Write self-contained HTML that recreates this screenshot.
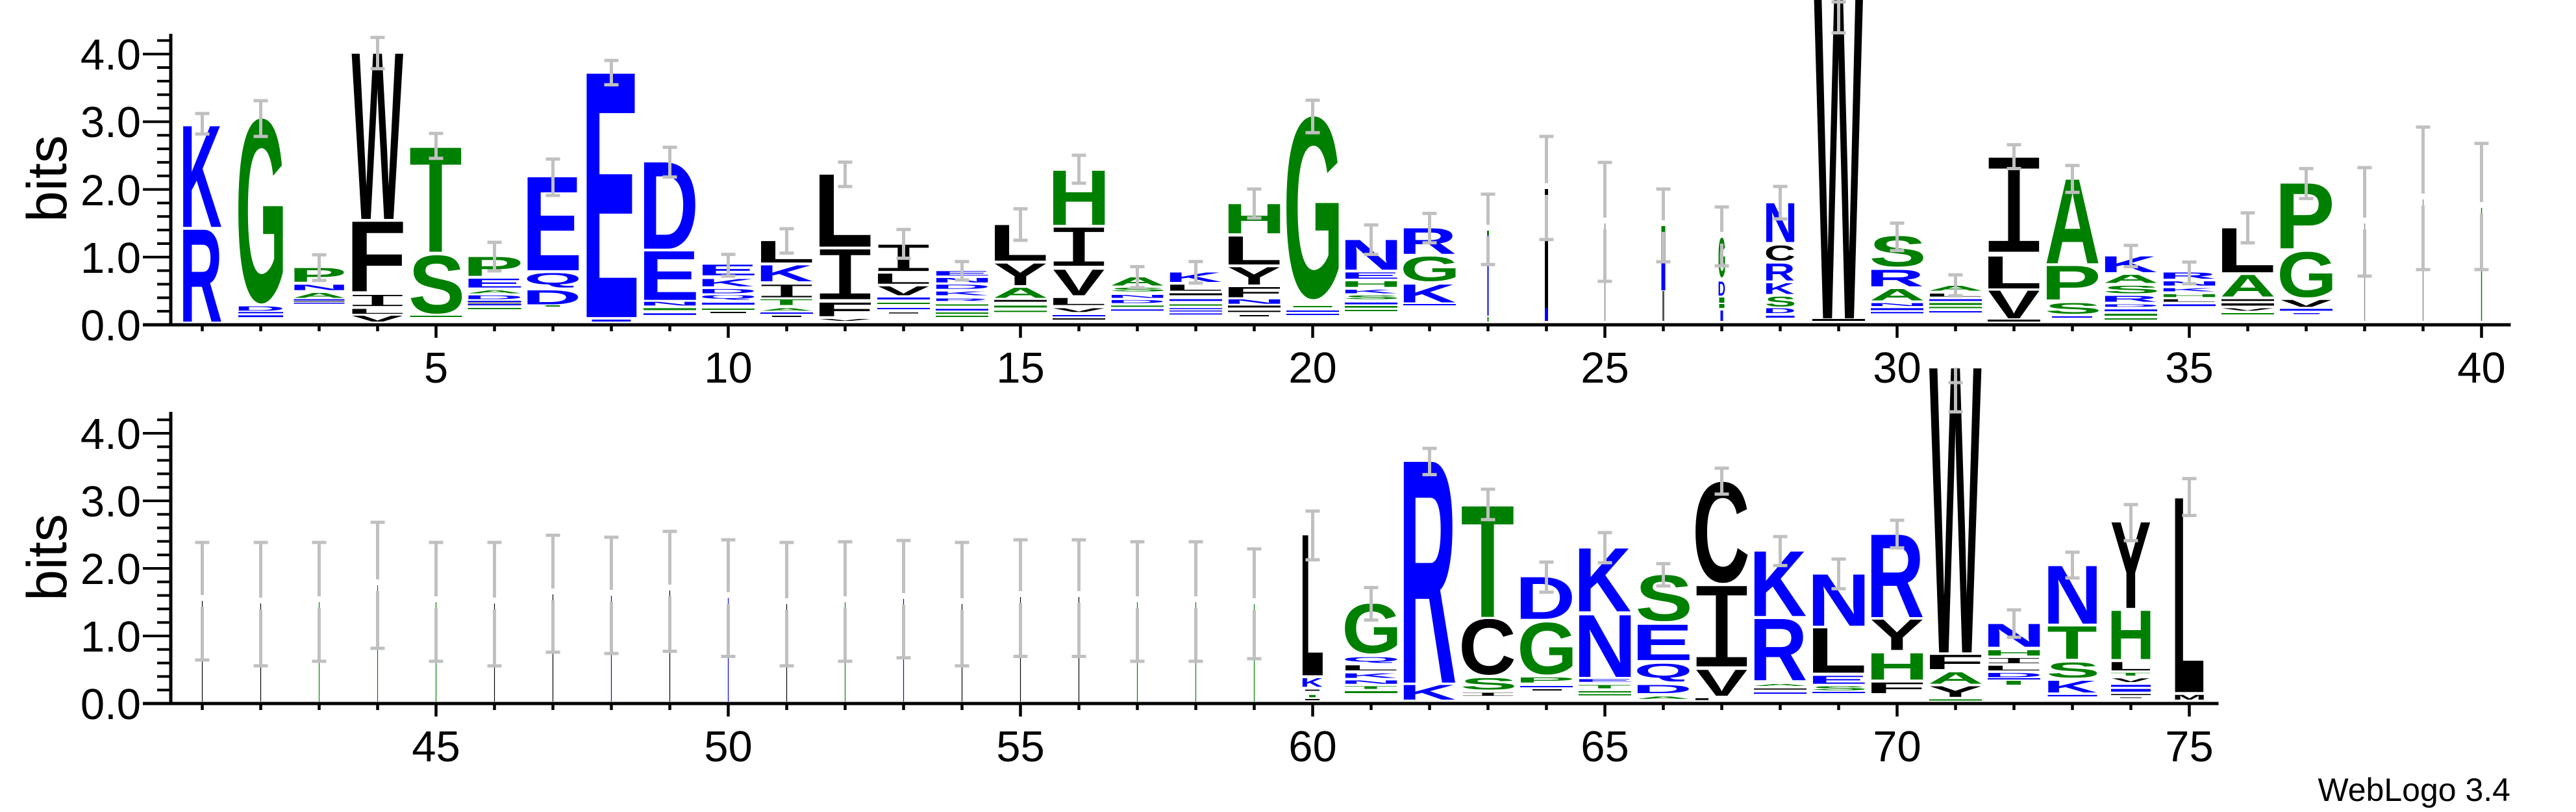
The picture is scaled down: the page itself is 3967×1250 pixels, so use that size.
<!DOCTYPE html>
<html><head><meta charset="utf-8"><style>
html,body{margin:0;padding:0;background:#fff;}
svg{display:block;}
.L text{font-family:"Liberation Sans",sans-serif;font-weight:bold;font-size:100px;}
.L text.i{font-family:"Liberation Mono",monospace;font-weight:normal;}
.b{fill:#0000ff}.g{fill:#008000}.k{fill:#000}
.ax{stroke:#000;fill:none}
.eb{stroke:#c0c0c0;stroke-width:5;fill:none}
.lab{font-family:"Liberation Sans",sans-serif;font-size:67px;fill:#000}
</style></head><body>
<svg id="root" width="3967" height="1250" viewBox="0 0 3967 1250" xmlns="http://www.w3.org/2000/svg">
<rect width="3967" height="1250" fill="#fff"/>
<g id="letters">
<!-- TOP ROW -->
<svg class="L" x="281.5" y="191.6" width="60" height="157.8" viewBox="7.3 -71.6 65 71.6" preserveAspectRatio="none"><text class="b">K</text></svg>
<svg class="L" x="281.5" y="353.3" width="60" height="142" viewBox="7.3 -71.6 64.7 71.6" preserveAspectRatio="none"><text class="b">R</text></svg>

<svg class="L" x="367" y="181.8" width="69" height="285.5" viewBox="4.6 -72.8 68.1 74" preserveAspectRatio="none"><text class="g">G</text></svg>
<svg class="L" x="367" y="471.6" width="69" height="6.7" viewBox="7.3 -71.6 59.8 71.6" preserveAspectRatio="none"><text class="b">D</text></svg>
<rect class="b" x="367" y="480.3" width="69" height="2"/><rect class="b" x="367" y="485.4" width="69" height="2.8"/>

<svg class="L" x="452.5" y="412.5" width="78" height="21.6" viewBox="7.3 -71.6 55.2 71.6" preserveAspectRatio="none"><text class="g">P</text></svg>
<svg class="L" x="452.5" y="438.1" width="78" height="8.7" viewBox="7.3 -71.6 57.5 71.6" preserveAspectRatio="none"><text class="b">N</text></svg>
<svg class="L" x="452.5" y="450.7" width="78" height="7.9" viewBox="0 -71.6 72.2 71.6" preserveAspectRatio="none"><text class="g">A</text></svg>
<rect class="b" x="452.5" y="460.6" width="78" height="1.9"/><rect class="k" x="452.5" y="463.5" width="78" height="1"/><rect class="b" x="452.5" y="466" width="78" height="1.5"/>

<svg class="L" x="541.5" y="82" width="80" height="255.1" viewBox="0 -71.6 94.5 71.6" preserveAspectRatio="none"><text class="k">W</text></svg>
<svg class="L" x="541.5" y="341.1" width="80" height="108.8" viewBox="7.3 -71.6 49.1 71.6" preserveAspectRatio="none"><text class="k">F</text></svg>
<svg class="L" x="541.5" y="453.9" width="80" height="17.3" viewBox="9 -66 42 66" preserveAspectRatio="none"><text class="k i">I</text></svg>
<svg class="L" x="541.5" y="475.5" width="80" height="7.5" viewBox="7.3 -71.6 50.8 71.6" preserveAspectRatio="none"><text class="k">L</text></svg>
<svg class="L" x="541.5" y="486" width="80" height="9" viewBox="0 -71.6 66.8 71.6" preserveAspectRatio="none"><text class="k">V</text></svg>

<svg class="L" x="631.5" y="224.8" width="80" height="162.8" viewBox="2.2 -71.6 56.8 71.6" preserveAspectRatio="none"><text class="g">T</text></svg>
<svg class="L" x="631.5" y="392.7" width="80" height="90.3" viewBox="3.4 -72.8 58.5 74" preserveAspectRatio="none"><text class="g">S</text></svg>
<rect class="g" x="631.5" y="486" width="80" height="2"/>

<svg class="L" x="720.5" y="395.5" width="82" height="29.5" viewBox="7.3 -71.6 55.2 71.6" preserveAspectRatio="none"><text class="g">P</text></svg>
<svg class="L" x="720.5" y="429" width="82" height="13.8" viewBox="7.3 -71.6 54.1 71.6" preserveAspectRatio="none"><text class="b">E</text></svg>
<svg class="L" x="720.5" y="446.8" width="82" height="4.7" viewBox="0 -71.6 72.2 71.6" preserveAspectRatio="none"><text class="g">A</text></svg>
<svg class="L" x="720.5" y="454.6" width="82" height="6" viewBox="7.3 -71.6 59.8 71.6" preserveAspectRatio="none"><text class="b">D</text></svg>
<rect class="b" x="720.5" y="463" width="82" height="2"/><rect class="k" x="720.5" y="466" width="82" height="1"/><rect class="b" x="720.5" y="468" width="82" height="2"/><rect class="g" x="720.5" y="474" width="82" height="2"/>

<svg class="L" x="811.5" y="272.5" width="80" height="143.5" viewBox="7.3 -71.6 54.1 71.6" preserveAspectRatio="none"><text class="b">E</text></svg>
<svg class="L" x="811.5" y="420.3" width="80" height="22.5" viewBox="4.2 -72.8 71 78.6" preserveAspectRatio="none"><text class="b">Q</text></svg>
<svg class="L" x="811.5" y="446.8" width="80" height="21.7" viewBox="7.3 -71.6 59.8 71.6" preserveAspectRatio="none"><text class="b">D</text></svg>
<rect class="g" x="840.5" y="470" width="22" height="2"/>

<svg class="L" x="902.5" y="112.4" width="78" height="375.8" viewBox="7.3 -71.6 54.1 71.6" preserveAspectRatio="none"><text class="b">E</text></svg>
<rect class="b" x="911.5" y="492" width="60" height="3"/>

<svg class="L" x="991" y="249.6" width="81" height="133.3" viewBox="7.3 -71.6 59.8 71.6" preserveAspectRatio="none"><text class="b">D</text></svg>
<svg class="L" x="991" y="386.8" width="81" height="74.9" viewBox="7.3 -71.6 54.1 71.6" preserveAspectRatio="none"><text class="b">E</text></svg>
<svg class="L" x="991" y="464.5" width="81" height="5.9" viewBox="7.3 -71.6 57.5 71.6" preserveAspectRatio="none"><text class="b">N</text></svg>
<rect class="g" x="991" y="474.4" width="81" height="3"/><rect class="b" x="991" y="482.3" width="81" height="2.5"/>

<svg class="L" x="1081" y="407.3" width="81" height="16.6" viewBox="7.3 -71.6 54.1 71.6" preserveAspectRatio="none"><text class="b">E</text></svg>
<svg class="L" x="1081" y="429" width="81" height="11.8" viewBox="7.3 -71.6 65 71.6" preserveAspectRatio="none"><text class="b">K</text></svg>
<svg class="L" x="1081" y="444.8" width="81" height="6.7" viewBox="7.3 -71.6 59.8 71.6" preserveAspectRatio="none"><text class="b">D</text></svg>
<svg class="L" x="1081" y="454.6" width="81" height="7.1" viewBox="4.2 -72.8 71 78.6" preserveAspectRatio="none"><text class="b">Q</text></svg>
<rect class="b" x="1081" y="466" width="81" height="3"/><rect class="g" x="1081" y="475" width="81" height="2"/><rect class="k" x="1094" y="480" width="55" height="2"/>

<svg class="L" x="1171" y="371" width="81" height="33.2" viewBox="7.3 -71.6 50.8 71.6" preserveAspectRatio="none"><text class="k">L</text></svg>
<svg class="L" x="1171" y="408.1" width="81" height="24.9" viewBox="7.3 -71.6 65 71.6" preserveAspectRatio="none"><text class="b">K</text></svg>
<svg class="L" x="1171" y="438.1" width="81" height="19.7" viewBox="9 -66 42 66" preserveAspectRatio="none"><text class="k i">I</text></svg>
<svg class="L" x="1171" y="460.6" width="81" height="9" viewBox="2.2 -71.6 56.8 71.6" preserveAspectRatio="none"><text class="g">T</text></svg>
<svg class="L" x="1171" y="474.4" width="81" height="3.9" viewBox="0 -71.6 72.2 71.6" preserveAspectRatio="none"><text class="g">A</text></svg>
<rect class="b" x="1171" y="481" width="81" height="2"/><rect class="k" x="1189" y="486" width="45" height="2"/>

<svg class="L" x="1261" y="268.5" width="81" height="111.2" viewBox="7.3 -71.6 50.8 71.6" preserveAspectRatio="none"><text class="k">L</text></svg>
<svg class="L" x="1261" y="383.7" width="81" height="76.9" viewBox="9 -66 42 66" preserveAspectRatio="none"><text class="k i">I</text></svg>
<svg class="L" x="1261" y="465.7" width="81" height="21.3" viewBox="7.3 -71.6 49.1 71.6" preserveAspectRatio="none"><text class="k">F</text></svg>
<svg class="L" x="1261" y="490.9" width="81" height="3.1" viewBox="0 -71.6 66.8 71.6" preserveAspectRatio="none"><text class="k">V</text></svg>

<svg class="L" x="1351" y="376.6" width="81" height="40.6" viewBox="9 -66 42 66" preserveAspectRatio="none"><text class="k i">I</text></svg>
<svg class="L" x="1351" y="421.1" width="81" height="15.8" viewBox="7.3 -71.6 50.8 71.6" preserveAspectRatio="none"><text class="k">L</text></svg>
<svg class="L" x="1351" y="440.8" width="81" height="13.8" viewBox="0 -71.6 66.8 71.6" preserveAspectRatio="none"><text class="k">V</text></svg>
<rect class="b" x="1351" y="458" width="81" height="3"/><rect class="g" x="1351" y="466" width="81" height="2"/><rect class="b" x="1351" y="474" width="81" height="2"/><rect class="k" x="1369" y="481" width="45" height="1.5"/>

<svg class="L" x="1441" y="417.2" width="81" height="7.1" viewBox="7.3 -71.6 54.1 71.6" preserveAspectRatio="none"><text class="b">E</text></svg>
<svg class="L" x="1441" y="427.8" width="81" height="7.1" viewBox="7.3 -71.6 57.5 71.6" preserveAspectRatio="none"><text class="b">N</text></svg>
<svg class="L" x="1441" y="438.1" width="81" height="6.7" viewBox="7.3 -71.6 59.8 71.6" preserveAspectRatio="none"><text class="b">D</text></svg>
<svg class="L" x="1441" y="448.7" width="81" height="5.9" viewBox="7.3 -71.6 65 71.6" preserveAspectRatio="none"><text class="b">K</text></svg>
<svg class="L" x="1441" y="459.4" width="81" height="3.9" viewBox="7.3 -71.6 64.7 71.6" preserveAspectRatio="none"><text class="b">R</text></svg>
<rect class="g" x="1441" y="468.5" width="81" height="2"/><rect class="b" x="1441" y="475.5" width="81" height="2.5"/><rect class="g" x="1441" y="481" width="81" height="2"/><rect class="g" x="1441" y="486" width="81" height="2"/>

<svg class="L" x="1531" y="346.2" width="81" height="55.2" viewBox="7.3 -71.6 50.8 71.6" preserveAspectRatio="none"><text class="k">L</text></svg>
<svg class="L" x="1531" y="405.4" width="81" height="33.5" viewBox="0 -71.6 66.8 71.6" preserveAspectRatio="none"><text class="k">Y</text></svg>
<svg class="L" x="1531" y="442.8" width="81" height="15.8" viewBox="0 -71.6 72.2 71.6" preserveAspectRatio="none"><text class="g">A</text></svg>
<rect class="k" x="1531" y="461.7" width="81" height="2.8"/><rect class="g" x="1531" y="470.4" width="81" height="3"/><rect class="g" x="1531" y="478.3" width="81" height="2"/>

<svg class="L" x="1621" y="261.4" width="81" height="84.8" viewBox="7.3 -71.6 57.5 71.6" preserveAspectRatio="none"><text class="g">H</text></svg>
<svg class="L" x="1621" y="350.2" width="81" height="59.1" viewBox="9 -66 42 66" preserveAspectRatio="none"><text class="k i">I</text></svg>
<svg class="L" x="1621" y="415.2" width="81" height="39.4" viewBox="0 -71.6 66.8 71.6" preserveAspectRatio="none"><text class="k">V</text></svg>
<svg class="L" x="1621" y="458.6" width="81" height="11" viewBox="7.3 -71.6 50.8 71.6" preserveAspectRatio="none"><text class="k">L</text></svg>
<svg class="L" x="1621" y="474.4" width="81" height="5.9" viewBox="0 -71.6 66.8 71.6" preserveAspectRatio="none"><text class="k">V</text></svg>
<rect class="b" x="1621" y="485" width="81" height="2"/><rect class="k" x="1621" y="490" width="81" height="2"/>

<svg class="L" x="1711" y="427" width="81" height="12.7" viewBox="0 -71.6 72.2 71.6" preserveAspectRatio="none"><text class="g">A</text></svg>
<svg class="L" x="1711" y="442.8" width="81" height="5.9" viewBox="3.4 -72.8 58.5 74" preserveAspectRatio="none"><text class="g">S</text></svg>
<svg class="L" x="1711" y="453.9" width="81" height="4.7" viewBox="7.3 -71.6 57.5 71.6" preserveAspectRatio="none"><text class="b">N</text></svg>
<svg class="L" x="1711" y="461.7" width="81" height="4.8" viewBox="7.3 -71.6 59.8 71.6" preserveAspectRatio="none"><text class="b">D</text></svg>
<rect class="g" x="1711" y="470.4" width="81" height="2"/><rect class="b" x="1711" y="476.3" width="81" height="2"/>

<svg class="L" x="1801" y="419.2" width="81" height="14.9" viewBox="7.3 -71.6 65 71.6" preserveAspectRatio="none"><text class="b">K</text></svg>
<svg class="L" x="1801" y="438.1" width="81" height="9.4" viewBox="7.3 -71.6 50.8 71.6" preserveAspectRatio="none"><text class="k">L</text></svg>
<rect class="k" x="1801" y="451.5" width="81" height="3"/><rect class="b" x="1801" y="460.6" width="81" height="2.7"/><rect class="g" x="1801" y="468.5" width="81" height="2"/><rect class="b" x="1801" y="474.4" width="81" height="1.5"/><rect class="b" x="1801" y="478" width="81" height="1.5"/><rect class="b" x="1801" y="482.5" width="81" height="1.7"/>

<svg class="L" x="1891" y="313.5" width="81" height="45.7" viewBox="7.3 -71.6 57.5 71.6" preserveAspectRatio="none"><text class="g">H</text></svg>
<svg class="L" x="1891" y="364" width="81" height="43.3" viewBox="7.3 -71.6 50.8 71.6" preserveAspectRatio="none"><text class="k">L</text></svg>
<svg class="L" x="1891" y="411.3" width="81" height="26.8" viewBox="0 -71.6 66.8 71.6" preserveAspectRatio="none"><text class="k">Y</text></svg>
<svg class="L" x="1891" y="442" width="81" height="15.8" viewBox="7.3 -71.6 49.1 71.6" preserveAspectRatio="none"><text class="k">F</text></svg>
<svg class="L" x="1891" y="460.6" width="81" height="7.1" viewBox="7.3 -71.6 57.5 71.6" preserveAspectRatio="none"><text class="b">N</text></svg>
<rect class="k" x="1891" y="470.4" width="81" height="3"/><rect class="k" x="1891" y="478.3" width="81" height="2"/><rect class="k" x="1909" y="485" width="45" height="2"/>

<svg class="L" x="1981" y="178.6" width="81" height="282" viewBox="4.6 -72.8 68.1 74" preserveAspectRatio="none"><text class="g">G</text></svg>
<rect class="g" x="1991.5" y="471" width="60" height="2"/><rect class="b" x="1981" y="478" width="81" height="2"/><rect class="b" x="1981" y="483" width="81" height="2"/>

<svg class="L" x="2071" y="368.7" width="81" height="46.5" viewBox="7.3 -71.6 57.5 71.6" preserveAspectRatio="none"><text class="b">N</text></svg>
<svg class="L" x="2071" y="419.2" width="81" height="9.8" viewBox="7.3 -71.6 54.1 71.6" preserveAspectRatio="none"><text class="b">E</text></svg>
<svg class="L" x="2071" y="432.9" width="81" height="8.9" viewBox="7.3 -71.6 57.5 71.6" preserveAspectRatio="none"><text class="g">H</text></svg>
<svg class="L" x="2071" y="446" width="81" height="5.5" viewBox="7.3 -71.6 65 71.6" preserveAspectRatio="none"><text class="b">K</text></svg>
<svg class="L" x="2071" y="454.6" width="81" height="6" viewBox="3.4 -72.8 58.5 74" preserveAspectRatio="none"><text class="g">S</text></svg>
<rect class="b" x="2071" y="465.7" width="81" height="2.8"/><rect class="g" x="2071" y="471" width="81" height="2.6"/><rect class="g" x="2071" y="477" width="81" height="2"/>

<svg class="L" x="2161" y="351.3" width="81" height="39.5" viewBox="7.3 -71.6 64.7 71.6" preserveAspectRatio="none"><text class="b">R</text></svg>
<svg class="L" x="2161" y="394.7" width="81" height="38.3" viewBox="4.6 -72.8 68.1 74" preserveAspectRatio="none"><text class="g">G</text></svg>
<svg class="L" x="2161" y="438.1" width="81" height="27.6" viewBox="7.3 -71.6 65 71.6" preserveAspectRatio="none"><text class="b">K</text></svg>
<rect class="b" x="2161" y="468" width="81" height="2"/>

<rect class="g" x="2290" y="355" width="3" height="7"/><rect class="b" x="2290.5" y="362" width="2" height="124"/><rect class="g" x="2290.5" y="488" width="2" height="7"/>
<rect class="k" x="2379" y="291" width="5" height="183"/><rect class="b" x="2379" y="474" width="5" height="20"/>
<rect fill="#888" x="2470.8" y="344" width="1.5" height="150"/>
<rect class="g" x="2558.5" y="348" width="6" height="53"/><rect class="b" x="2558.5" y="403" width="6" height="44"/><rect fill="#555" x="2560" y="448" width="3" height="46"/>
<svg class="L" x="2646.5" y="366" width="10" height="61" viewBox="4.6 -72.8 68.1 74" preserveAspectRatio="none"><text class="g">G</text></svg>
<svg class="L" x="2646.5" y="433" width="10" height="22" viewBox="7.3 -71.6 59.8 71.6" preserveAspectRatio="none"><text class="b">D</text></svg>
<rect class="g" x="2647.5" y="458" width="8" height="8"/><rect class="g" x="2647.5" y="468" width="8" height="6"/><rect class="b" x="2649.5" y="478" width="4" height="16"/>

<svg class="L" x="2719.5" y="312" width="44" height="60.6" viewBox="7.3 -71.6 57.5 71.6" preserveAspectRatio="none"><text class="b">N</text></svg>
<svg class="L" x="2719.5" y="377.8" width="44" height="23.6" viewBox="4.9 -72.8 63.3 74" preserveAspectRatio="none"><text class="k">C</text></svg>
<svg class="L" x="2719.5" y="405.4" width="44" height="26.4" viewBox="7.3 -71.6 64.7 71.6" preserveAspectRatio="none"><text class="b">R</text></svg>
<svg class="L" x="2719.5" y="435.7" width="44" height="17" viewBox="7.3 -71.6 65 71.6" preserveAspectRatio="none"><text class="b">K</text></svg>
<svg class="L" x="2719.5" y="456.6" width="44" height="15.8" viewBox="3.4 -72.8 58.5 74" preserveAspectRatio="none"><text class="g">S</text></svg>
<svg class="L" x="2719.5" y="474.4" width="44" height="7.8" viewBox="7.3 -71.6 59.8 71.6" preserveAspectRatio="none"><text class="b">D</text></svg>
<rect class="b" x="2719.5" y="486" width="44" height="3"/>

<svg class="L" x="2793" y="-20" width="77" height="510.1" viewBox="0 -71.6 94.5 71.6" preserveAspectRatio="none"><text class="k">W</text></svg>
<rect class="k" x="2791" y="491" width="81" height="3"/>

<svg class="L" x="2881" y="363.2" width="81" height="47.3" viewBox="3.4 -72.8 58.5 74" preserveAspectRatio="none"><text class="g">S</text></svg>
<svg class="L" x="2881" y="415.2" width="81" height="25.6" viewBox="7.3 -71.6 64.7 71.6" preserveAspectRatio="none"><text class="b">R</text></svg>
<svg class="L" x="2881" y="444.8" width="81" height="17.7" viewBox="0 -71.6 72.2 71.6" preserveAspectRatio="none"><text class="g">A</text></svg>
<svg class="L" x="2881" y="466.5" width="81" height="4.7" viewBox="7.3 -71.6 57.5 71.6" preserveAspectRatio="none"><text class="b">N</text></svg>
<rect class="b" x="2881" y="474.4" width="81" height="3"/><rect class="b" x="2881" y="480.3" width="81" height="2"/>

<svg class="L" x="2971" y="439.7" width="81" height="7.8" viewBox="0 -71.6 72.2 71.6" preserveAspectRatio="none"><text class="g">A</text></svg>
<svg class="L" x="2971" y="451.9" width="81" height="4.7" viewBox="7.3 -71.6 50.8 71.6" preserveAspectRatio="none"><text class="k">L</text></svg>
<rect class="b" x="2971" y="460.6" width="81" height="2.7"/><rect class="g" x="2971" y="466.5" width="81" height="3"/><rect class="g" x="2971" y="472.4" width="81" height="2"/><rect class="b" x="2971" y="479" width="81" height="2"/>

<svg class="L" x="3061" y="242.5" width="81" height="145.1" viewBox="9 -66 42 66" preserveAspectRatio="none"><text class="k i">I</text></svg>
<svg class="L" x="3061" y="394.7" width="81" height="49.3" viewBox="7.3 -71.6 50.8 71.6" preserveAspectRatio="none"><text class="k">L</text></svg>
<svg class="L" x="3061" y="447.5" width="81" height="42.6" viewBox="0 -71.6 66.8 71.6" preserveAspectRatio="none"><text class="k">V</text></svg>
<rect class="k" x="3061" y="492" width="81" height="3"/>

<svg class="L" x="3151" y="274.4" width="81" height="131" viewBox="0 -71.6 72.2 71.6" preserveAspectRatio="none"><text class="g">A</text></svg>
<svg class="L" x="3151" y="409.3" width="81" height="52.4" viewBox="7.3 -71.6 55.2 71.6" preserveAspectRatio="none"><text class="g">P</text></svg>
<svg class="L" x="3151" y="466.5" width="81" height="16.5" viewBox="3.4 -72.8 58.5 74" preserveAspectRatio="none"><text class="g">S</text></svg>
<rect class="b" x="3160" y="487" width="62" height="2"/>

<svg class="L" x="3241" y="394.7" width="81" height="24.5" viewBox="7.3 -71.6 65 71.6" preserveAspectRatio="none"><text class="b">K</text></svg>
<svg class="L" x="3241" y="423.1" width="81" height="12.6" viewBox="0 -71.6 72.2 71.6" preserveAspectRatio="none"><text class="g">A</text></svg>
<svg class="L" x="3241" y="439.7" width="81" height="11.8" viewBox="3.4 -72.8 58.5 74" preserveAspectRatio="none"><text class="g">S</text></svg>
<svg class="L" x="3241" y="455.4" width="81" height="9.1" viewBox="7.3 -71.6 64.7 71.6" preserveAspectRatio="none"><text class="b">R</text></svg>
<svg class="L" x="3241" y="468.5" width="81" height="3.9" viewBox="7.3 -71.6 59.8 71.6" preserveAspectRatio="none"><text class="b">D</text></svg>
<rect class="b" x="3241" y="476.3" width="81" height="2.8"/><rect class="g" x="3241" y="483" width="81" height="3"/><rect class="g" x="3241" y="490" width="81" height="2"/>

<svg class="L" x="3331" y="419.2" width="81" height="9.8" viewBox="7.3 -71.6 64.7 71.6" preserveAspectRatio="none"><text class="b">R</text></svg>
<svg class="L" x="3331" y="433" width="81" height="6.7" viewBox="7.3 -71.6 57.5 71.6" preserveAspectRatio="none"><text class="b">N</text></svg>
<svg class="L" x="3331" y="443.6" width="81" height="5.1" viewBox="7.3 -71.6 65 71.6" preserveAspectRatio="none"><text class="b">K</text></svg>
<svg class="L" x="3331" y="452.7" width="81" height="4.7" viewBox="7.3 -71.6 57.5 71.6" preserveAspectRatio="none"><text class="g">H</text></svg>
<svg class="L" x="3331" y="460.6" width="81" height="3.9" viewBox="7.3 -71.6 50.8 71.6" preserveAspectRatio="none"><text class="k">L</text></svg>
<rect class="b" x="3331" y="468.5" width="81" height="2.7"/>

<svg class="L" x="3421" y="351.3" width="81" height="67.9" viewBox="7.3 -71.6 50.8 71.6" preserveAspectRatio="none"><text class="k">L</text></svg>
<svg class="L" x="3421" y="423.1" width="81" height="33.5" viewBox="0 -71.6 72.2 71.6" preserveAspectRatio="none"><text class="g">A</text></svg>
<rect class="k" x="3421" y="460.6" width="81" height="2.7"/><rect class="k" x="3421" y="467" width="81" height="3.5"/>
<svg class="L" x="3421" y="474.4" width="81" height="3.9" viewBox="0 -71.6 66.8 71.6" preserveAspectRatio="none"><text class="k">V</text></svg>
<rect class="g" x="3421" y="482" width="81" height="2"/>

<svg class="L" x="3511" y="282.3" width="81" height="101.4" viewBox="7.3 -71.6 55.2 71.6" preserveAspectRatio="none"><text class="g">P</text></svg>
<svg class="L" x="3511" y="387.6" width="81" height="70.2" viewBox="4.6 -72.8 68.1 74" preserveAspectRatio="none"><text class="g">G</text></svg>
<svg class="L" x="3511" y="461.7" width="81" height="10.7" viewBox="0 -71.6 66.8 71.6" preserveAspectRatio="none"><text class="k">V</text></svg>
<rect class="b" x="3511" y="475.5" width="81" height="2.8"/><rect class="b" x="3532" y="482" width="40" height="1.5"/>

<rect fill="#909090" x="3640.8" y="344" width="1.5" height="150"/>
<rect fill="#909090" x="3730.8" y="307" width="1.5" height="187"/>
<rect class="g" x="3820.8" y="320" width="1.5" height="174"/>

<!-- BOTTOM ROW thin -->
<rect class="k" x="310.9" y="925" width="1.2" height="155"/>
<rect class="k" x="400.9" y="929" width="1.2" height="151"/>
<rect class="g" x="490.9" y="927" width="1.2" height="153"/>
<rect class="g" x="580.9" y="901" width="1.2" height="179"/>
<rect class="g" x="670.9" y="927" width="1.2" height="153"/>
<rect class="k" x="760.9" y="929" width="1.2" height="151"/>
<rect class="k" x="850.9" y="915" width="1.2" height="165"/>
<rect class="b" x="940.9" y="917" width="1.2" height="163"/>
<rect class="k" x="1030.9" y="909" width="1.2" height="171"/>
<rect class="b" x="1120.9" y="920.5" width="1.2" height="159.5"/>
<rect class="k" x="1210.9" y="930" width="1.2" height="150"/>
<rect class="g" x="1300.9" y="927" width="1.2" height="153"/>
<rect class="b" x="1390.9" y="922" width="1.2" height="158"/>
<rect class="k" x="1480.9" y="930" width="1.2" height="150"/>
<rect class="k" x="1570.9" y="919" width="1.2" height="161"/>
<rect class="k" x="1660.9" y="919" width="1.2" height="161"/>
<rect class="g" x="1750.9" y="927" width="1.2" height="153"/>
<rect class="g" x="1840.9" y="927" width="1.2" height="153"/>
<rect class="g" x="1930.9" y="930" width="1.2" height="150"/>

<svg class="L" x="2005.5" y="823.5" width="32" height="216" viewBox="7.3 -71.6 50.8 71.6" preserveAspectRatio="none"><text class="k">L</text></svg>
<svg class="L" x="2005.5" y="1043.7" width="32" height="13.6" viewBox="7.3 -71.6 65 71.6" preserveAspectRatio="none"><text class="b">K</text></svg>
<rect class="k" x="2010" y="1061.6" width="22" height="1.8"/><rect class="g" x="2016" y="1069.8" width="10" height="3.6"/><rect class="k" x="2010" y="1076" width="22" height="2"/>

<svg class="L" x="2071" y="929.5" width="81" height="76.8" viewBox="4.6 -72.8 68.1 74" preserveAspectRatio="none"><text class="g">G</text></svg>
<svg class="L" x="2071" y="1011.6" width="81" height="8.9" viewBox="4.2 -72.8 71 78.6" preserveAspectRatio="none"><text class="b">Q</text></svg>
<svg class="L" x="2071" y="1024.1" width="81" height="7.9" viewBox="7.3 -71.6 50.8 71.6" preserveAspectRatio="none"><text class="k">L</text></svg>
<svg class="L" x="2071" y="1036.6" width="81" height="7.1" viewBox="7.3 -71.6 65 71.6" preserveAspectRatio="none"><text class="b">K</text></svg>
<svg class="L" x="2071" y="1047.3" width="81" height="5.4" viewBox="7.3 -71.6 57.5 71.6" preserveAspectRatio="none"><text class="b">N</text></svg>
<svg class="L" x="2071" y="1056.2" width="81" height="4.3" viewBox="2.2 -71.6 56.8 71.6" preserveAspectRatio="none"><text class="g">T</text></svg>
<rect class="g" x="2071" y="1064" width="81" height="3"/>

<svg class="L" x="2161" y="710" width="81" height="340.9" viewBox="7.3 -71.6 64.7 71.6" preserveAspectRatio="none"><text class="b">R</text></svg>
<svg class="L" x="2161" y="1054.4" width="81" height="22.6" viewBox="7.3 -71.6 65 71.6" preserveAspectRatio="none"><text class="b">K</text></svg>

<svg class="L" x="2251" y="776.7" width="81" height="173.1" viewBox="2.2 -71.6 56.8 71.6" preserveAspectRatio="none"><text class="g">T</text></svg>
<svg class="L" x="2251" y="952.7" width="81" height="86.3" viewBox="4.9 -72.8 63.3 74" preserveAspectRatio="none"><text class="k">C</text></svg>
<svg class="L" x="2251" y="1043.7" width="81" height="17.9" viewBox="3.4 -72.8 58.5 74" preserveAspectRatio="none"><text class="g">S</text></svg>
<svg class="L" x="2251" y="1066.2" width="81" height="5" viewBox="9 -66 42 66" preserveAspectRatio="none"><text class="k i">I</text></svg>

<svg class="L" x="2341" y="888.4" width="81" height="64.3" viewBox="7.3 -71.6 59.8 71.6" preserveAspectRatio="none"><text class="b">D</text></svg>
<svg class="L" x="2341" y="958" width="81" height="80.4" viewBox="4.6 -72.8 68.1 74" preserveAspectRatio="none"><text class="g">G</text></svg>
<svg class="L" x="2341" y="1042.7" width="81" height="8.2" viewBox="7.3 -71.6 55.2 71.6" preserveAspectRatio="none"><text class="g">P</text></svg>
<rect class="b" x="2341" y="1056" width="81" height="2"/><rect class="k" x="2360" y="1061" width="45" height="2"/>

<svg class="L" x="2431" y="842.7" width="81" height="98.6" viewBox="7.3 -71.6 65 71.6" preserveAspectRatio="none"><text class="b">K</text></svg>
<svg class="L" x="2431" y="945.6" width="81" height="96.4" viewBox="7.3 -71.6 57.5 71.6" preserveAspectRatio="none"><text class="b">N</text></svg>
<svg class="L" x="2431" y="1045.5" width="81" height="4.3" viewBox="7.3 -71.6 54.1 71.6" preserveAspectRatio="none"><text class="b">E</text></svg>
<svg class="L" x="2431" y="1054.4" width="81" height="5.4" viewBox="2.2 -71.6 56.8 71.6" preserveAspectRatio="none"><text class="g">T</text></svg>
<rect class="g" x="2431" y="1064" width="81" height="2"/><rect class="g" x="2431" y="1068.5" width="81" height="2"/>

<svg class="L" x="2521" y="884.9" width="81" height="71.4" viewBox="3.4 -72.8 58.5 74" preserveAspectRatio="none"><text class="g">S</text></svg>
<svg class="L" x="2521" y="961.6" width="81" height="54.6" viewBox="7.3 -71.6 54.1 71.6" preserveAspectRatio="none"><text class="b">E</text></svg>
<svg class="L" x="2521" y="1021.2" width="81" height="27.9" viewBox="4.2 -72.8 71 78.6" preserveAspectRatio="none"><text class="b">Q</text></svg>
<svg class="L" x="2521" y="1054.4" width="81" height="12.6" viewBox="7.3 -71.6 59.8 71.6" preserveAspectRatio="none"><text class="b">D</text></svg>
<svg class="L" x="2521" y="1072.3" width="81" height="3.6" viewBox="0 -71.6 72.2 71.6" preserveAspectRatio="none"><text class="g">A</text></svg>

<svg class="L" x="2611" y="741.4" width="81" height="156" viewBox="4.9 -72.8 63.3 74" preserveAspectRatio="none"><text class="k">C</text></svg>
<svg class="L" x="2611" y="902" width="81" height="123.9" viewBox="9 -66 42 66" preserveAspectRatio="none"><text class="k i">I</text></svg>
<svg class="L" x="2611" y="1031.2" width="81" height="40" viewBox="0 -71.6 66.8 71.6" preserveAspectRatio="none"><text class="k">V</text></svg>
<rect class="k" x="2611" y="1074.8" width="20" height="2.9"/>

<svg class="L" x="2701" y="847.4" width="81" height="101" viewBox="7.3 -71.6 65 71.6" preserveAspectRatio="none"><text class="b">K</text></svg>
<svg class="L" x="2701" y="952.7" width="81" height="94.6" viewBox="7.3 -71.6 64.7 71.6" preserveAspectRatio="none"><text class="b">R</text></svg>
<svg class="L" x="2701" y="1052.7" width="81" height="3.5" viewBox="0 -71.6 72.2 71.6" preserveAspectRatio="none"><text class="g">A</text></svg>
<rect class="k" x="2701" y="1059.8" width="81" height="1.8"/><rect class="b" x="2701" y="1066" width="81" height="2"/>

<svg class="L" x="2791" y="883.1" width="81" height="80.3" viewBox="7.3 -71.6 57.5 71.6" preserveAspectRatio="none"><text class="b">N</text></svg>
<svg class="L" x="2791" y="967" width="81" height="68.5" viewBox="7.3 -71.6 50.8 71.6" preserveAspectRatio="none"><text class="k">L</text></svg>
<svg class="L" x="2791" y="1040.2" width="81" height="12.5" viewBox="7.3 -71.6 54.1 71.6" preserveAspectRatio="none"><text class="b">E</text></svg>
<svg class="L" x="2791" y="1056.2" width="81" height="6.5" viewBox="3.4 -72.8 58.5 74" preserveAspectRatio="none"><text class="g">S</text></svg>
<rect class="b" x="2791" y="1065" width="81" height="2"/>

<svg class="L" x="2881" y="823" width="81" height="127" viewBox="7.3 -71.6 64.7 71.6" preserveAspectRatio="none"><text class="b">R</text></svg>
<svg class="L" x="2881" y="953.7" width="81" height="47" viewBox="0 -71.6 66.8 71.6" preserveAspectRatio="none"><text class="k">Y</text></svg>
<svg class="L" x="2881" y="1005.1" width="81" height="41.1" viewBox="7.3 -71.6 57.5 71.6" preserveAspectRatio="none"><text class="g">H</text></svg>
<svg class="L" x="2881" y="1050.6" width="81" height="16.7" viewBox="7.3 -71.6 49.1 71.6" preserveAspectRatio="none"><text class="k">F</text></svg>

<svg class="L" x="2971" y="565.9" width="81" height="438.5" viewBox="0 -71.6 94.5 71.6" preserveAspectRatio="none"><text class="k">W</text></svg>
<svg class="L" x="2971" y="1008" width="81" height="22.3" viewBox="7.3 -71.6 49.1 71.6" preserveAspectRatio="none"><text class="k">F</text></svg>
<svg class="L" x="2971" y="1035" width="81" height="17.5" viewBox="0 -71.6 72.2 71.6" preserveAspectRatio="none"><text class="g">A</text></svg>
<svg class="L" x="2971" y="1056.2" width="81" height="16.6" viewBox="0 -71.6 66.8 71.6" preserveAspectRatio="none"><text class="k">Y</text></svg>
<rect class="g" x="2971" y="1076.5" width="81" height="2"/>

<svg class="L" x="3061" y="960" width="81" height="35.8" viewBox="7.3 -71.6 57.5 71.6" preserveAspectRatio="none"><text class="b">N</text></svg>
<svg class="L" x="3061" y="1000.7" width="81" height="8.5" viewBox="7.3 -71.6 57.5 71.6" preserveAspectRatio="none"><text class="g">H</text></svg>
<svg class="L" x="3061" y="1012.9" width="81" height="8.1" viewBox="9 -66 42 66" preserveAspectRatio="none"><text class="k i">I</text></svg>
<svg class="L" x="3061" y="1024.7" width="81" height="7.4" viewBox="7.3 -71.6 50.8 71.6" preserveAspectRatio="none"><text class="k">L</text></svg>
<svg class="L" x="3061" y="1035.8" width="81" height="6.7" viewBox="7.3 -71.6 59.8 71.6" preserveAspectRatio="none"><text class="b">D</text></svg>
<rect class="b" x="3061" y="1044" width="81" height="2"/><rect class="g" x="3090" y="1048" width="22" height="6"/>

<svg class="L" x="3153.5" y="870" width="76" height="90" viewBox="7.3 -71.6 57.5 71.6" preserveAspectRatio="none"><text class="b">N</text></svg>
<svg class="L" x="3153.5" y="963.7" width="76" height="50.6" viewBox="2.2 -71.6 56.8 71.6" preserveAspectRatio="none"><text class="g">T</text></svg>
<svg class="L" x="3153.5" y="1019.2" width="76" height="24" viewBox="3.4 -72.8 58.5 74" preserveAspectRatio="none"><text class="g">S</text></svg>
<svg class="L" x="3153.5" y="1048" width="76" height="18.1" viewBox="7.3 -71.6 65 71.6" preserveAspectRatio="none"><text class="b">K</text></svg>
<rect class="b" x="3153.5" y="1069.8" width="76" height="2.2"/>

<svg class="L" x="3251" y="803.8" width="61" height="132.1" viewBox="0 -71.6 66.8 71.6" preserveAspectRatio="none"><text class="k">Y</text></svg>
<svg class="L" x="3251" y="939.6" width="61" height="75.1" viewBox="7.3 -71.6 57.5 71.6" preserveAspectRatio="none"><text class="g">H</text></svg>
<svg class="L" x="3251" y="1019.2" width="61" height="12.9" viewBox="7.3 -71.6 50.8 71.6" preserveAspectRatio="none"><text class="k">L</text></svg>
<svg class="L" x="3251" y="1035.8" width="61" height="4.4" viewBox="2.2 -71.6 56.8 71.6" preserveAspectRatio="none"><text class="g">T</text></svg>
<svg class="L" x="3251" y="1044.3" width="61" height="5.6" viewBox="0 -71.6 66.8 71.6" preserveAspectRatio="none"><text class="k">V</text></svg>
<rect class="b" x="3251" y="1054.3" width="61" height="3"/><rect class="b" x="3251" y="1060.6" width="61" height="4.1"/><rect class="k" x="3251" y="1068.4" width="61" height="1.6"/><rect class="k" x="3265" y="1073.5" width="33" height="1"/>

<svg class="L" x="3349" y="766.4" width="45" height="299" viewBox="7.3 -71.6 50.8 71.6" preserveAspectRatio="none"><text class="k">L</text></svg>
<svg class="L" x="3349" y="1069.8" width="45" height="7.4" viewBox="7.1 -71.6 69.1 71.6" preserveAspectRatio="none"><text class="k">M</text></svg>
</g>

<!-- error bars -->
<path class="eb" d="
M311.5 174.7V206.2M300.5 174.7h22M300.5 206.2h22
M401.5 155V210M390.5 155h22M390.5 210h22
M491.5 392.3V431.8M480.5 392.3h22M480.5 431.8h22
M581.5 57.6V105.7M570.5 57.6h22M570.5 105.7h22
M671.5 205.4V243.7M660.5 205.4h22M660.5 243.7h22
M761.5 373V417M750.5 373h22M750.5 417h22
M851.5 244.9V300.9M840.5 244.9h22M840.5 300.9h22
M941.5 93V130.5M930.5 93h22M930.5 130.5h22
M1031.5 226.7V272.5M1020.5 226.7h22M1020.5 272.5h22
M1121.5 391.6V425M1110.5 391.6h22M1110.5 425h22
M1211.5 352.1V389.6M1200.5 352.1h22M1200.5 389.6h22
M1301.5 249.6V287.1M1290.5 249.6h22M1290.5 287.1h22
M1391.5 353.3V397.5M1380.5 353.3h22M1380.5 397.5h22
M1481.5 402.6V431M1470.5 402.6h22M1470.5 431h22
M1571.5 321.4V369.9M1560.5 321.4h22M1560.5 369.9h22
M1661.5 239V282M1650.5 239h22M1650.5 282h22
M1751.5 410.5V442.8M1740.5 410.5h22M1740.5 442.8h22
M1841.5 402.6V435.7M1830.5 402.6h22M1830.5 435.7h22
M1931.5 291V335.6M1920.5 291h22M1920.5 335.6h22
M2021.5 154.2V204.3M2010.5 154.2h22M2010.5 204.3h22
M2111.5 346.2V391.6M2100.5 346.2h22M2100.5 391.6h22
M2201.5 328.5V373.8M2190.5 328.5h22M2190.5 373.8h22
M2291.5 298.9V346M2291.5 364V407.3M2280.5 298.9h22M2280.5 407.3h22
M2381.5 210V282M2381.5 300V368.7M2370.5 210h22M2370.5 368.7h22
M2471.5 250V335M2471.5 353V433M2460.5 250h22M2460.5 433h22
M2561.5 291V339M2561.5 357V403M2550.5 291h22M2550.5 403h22
M2651.5 318.6V357M2651.5 375V409.3M2640.5 318.6h22M2640.5 409.3h22
M2741.5 287V337M2730.5 287h22M2730.5 337h22
M2831.5 -20V50.5M2820.5 3h22M2820.5 50.5h22
M2921.5 343.5V385.7M2910.5 343.5h22M2910.5 385.7h22
M3011.5 423.1V455.4M3000.5 423.1h22M3000.5 455.4h22
M3101.5 222.8V259.5M3090.5 222.8h22M3090.5 259.5h22
M3191.5 254.7V296.1M3180.5 254.7h22M3180.5 296.1h22
M3281.5 377.8V410.5M3270.5 377.8h22M3270.5 410.5h22
M3371.5 403.4V436.9M3360.5 403.4h22M3360.5 436.9h22
M3461.5 327.7V373.8M3450.5 327.7h22M3450.5 373.8h22
M3551.5 259.5V305.6M3540.5 259.5h22M3540.5 305.6h22
M3641.5 258V335M3641.5 353V425M3630.5 258h22M3630.5 425h22
M3731.5 195.6V298M3731.5 316V415M3720.5 195.6h22M3720.5 415h22
M3821.5 220.8V311M3821.5 329V415M3810.5 220.8h22M3810.5 415h22
M311.5 835V916M311.5 934V1016M300.5 835h22M300.5 1016h22
M401.5 835V920M401.5 938V1025M390.5 835h22M390.5 1025h22
M491.5 835V918M491.5 936V1018M480.5 835h22M480.5 1018h22
M581.5 804V892M581.5 910V998M570.5 804h22M570.5 998h22
M671.5 835V918M671.5 936V1018M660.5 835h22M660.5 1018h22
M761.5 835V920M761.5 938V1025M750.5 835h22M750.5 1025h22
M851.5 824V906M851.5 924V1004M840.5 824h22M840.5 1004h22
M941.5 827V908M941.5 926V1006M930.5 827h22M930.5 1006h22
M1031.5 818V900M1031.5 918V1002.5M1020.5 818h22M1020.5 1002.5h22
M1121.5 831V911.5M1121.5 929.5V1010.5M1110.5 831h22M1110.5 1010.5h22
M1211.5 835V921M1211.5 939V1025M1200.5 835h22M1200.5 1025h22
M1301.5 834V918M1301.5 936V1018M1290.5 834h22M1290.5 1018h22
M1391.5 832V913M1391.5 931V1012.6M1380.5 832h22M1380.5 1012.6h22
M1481.5 835V921M1481.5 939V1025M1470.5 835h22M1470.5 1025h22
M1571.5 831V910M1571.5 928V1010.5M1560.5 831h22M1560.5 1010.5h22
M1661.5 831V910M1661.5 928V1010.5M1650.5 831h22M1650.5 1010.5h22
M1751.5 834V918M1751.5 936V1018M1740.5 834h22M1740.5 1018h22
M1841.5 834V918M1841.5 936V1018M1830.5 834h22M1830.5 1018h22
M1931.5 845V921M1931.5 939V1014M1920.5 845h22M1920.5 1014h22
M2021.5 786.7V861.7M2010.5 786.7h22M2010.5 861.7h22
M2111.5 904.5V954.5M2100.5 904.5h22M2100.5 954.5h22
M2201.5 690.3V730.6M2190.5 690.3h22M2190.5 730.6h22
M2291.5 753.1V799.9M2280.5 753.1h22M2280.5 799.9h22
M2381.5 865.2V911.6M2370.5 865.2h22M2370.5 911.6h22
M2471.5 819.9V866.3M2460.5 819.9h22M2460.5 866.3h22
M2561.5 867.7V902M2550.5 867.7h22M2550.5 902h22
M2651.5 720.7V760.6M2640.5 720.7h22M2640.5 760.6h22
M2741.5 826V870.6M2730.5 826h22M2730.5 870.6h22
M2831.5 860.6V906.3M2820.5 860.6h22M2820.5 906.3h22
M2921.5 800.9V843.4M2910.5 800.9h22M2910.5 843.4h22
M3011.5 566V634M3000.5 589h22M3000.5 634h22
M3101.5 938.9V981M3090.5 938.9h22M3090.5 981h22
M3191.5 850V889.7M3180.5 850h22M3180.5 889.7h22
M3281.5 776.8V832.3M3270.5 776.8h22M3270.5 832.3h22
M3371.5 736.8V793.5M3360.5 736.8h22M3360.5 793.5h22
"/>

<!-- axes -->
<path class="ax" stroke-width="5" d="M263 52V502.5M220 500H3866.5M263 634V1085.5M220 1083H3416.5"/>
<path class="ax" stroke-width="4" d="
M220 395.8H263M220 291.6H263M220 187.4H263M220 83.2H263
M242 479.16H263M242 458.32H263M242 437.48H263M242 416.64H263
M242 374.96H263M242 354.12H263M242 333.28H263M242 312.44H263
M242 270.76H263M242 249.92H263M242 229.08H263M242 208.24H263
M242 166.56H263M242 145.72H263M242 124.88H263M242 104.04H263M242 62.36H263
M220 979H263M220 875H263M220 771H263M220 667H263
M242 1062.2H263M242 1041.4H263M242 1020.6H263M242 999.8H263
M242 958.2H263M242 937.4H263M242 916.6H263M242 895.8H263
M242 854.2H263M242 833.4H263M242 812.6H263M242 791.8H263
M242 750.2H263M242 729.4H263M242 708.6H263M242 687.8H263M242 646.2H263"/>
<path class="ax" stroke-width="4.5" d="
M311.5 500v10M401.5 500v10M491.5 500v10M581.5 500v10M671.5 500v20M761.5 500v10M851.5 500v10M941.5 500v10M1031.5 500v10M1121.5 500v20
M1211.5 500v10M1301.5 500v10M1391.5 500v10M1481.5 500v10M1571.5 500v20M1661.5 500v10M1751.5 500v10M1841.5 500v10M1931.5 500v10M2021.5 500v20
M2111.5 500v10M2201.5 500v10M2291.5 500v10M2381.5 500v10M2471.5 500v20M2561.5 500v10M2651.5 500v10M2741.5 500v10M2831.5 500v10M2921.5 500v20
M3011.5 500v10M3101.5 500v10M3191.5 500v10M3281.5 500v10M3371.5 500v20M3461.5 500v10M3551.5 500v10M3641.5 500v10M3731.5 500v10M3821.5 500v20
M311.5 1083v10M401.5 1083v10M491.5 1083v10M581.5 1083v10M671.5 1083v20M761.5 1083v10M851.5 1083v10M941.5 1083v10M1031.5 1083v10M1121.5 1083v20
M1211.5 1083v10M1301.5 1083v10M1391.5 1083v10M1481.5 1083v10M1571.5 1083v20M1661.5 1083v10M1751.5 1083v10M1841.5 1083v10M1931.5 1083v10M2021.5 1083v20
M2111.5 1083v10M2201.5 1083v10M2291.5 1083v10M2381.5 1083v10M2471.5 1083v20M2561.5 1083v10M2651.5 1083v10M2741.5 1083v10M2831.5 1083v10M2921.5 1083v20
M3011.5 1083v10M3101.5 1083v10M3191.5 1083v10M3281.5 1083v10M3371.5 1083v20"/>

<!-- y tick labels -->
<g class="lab" text-anchor="end">
<text x="217" y="524">0.0</text><text x="217" y="420">1.0</text><text x="217" y="316">2.0</text><text x="217" y="211">3.0</text><text x="217" y="107">4.0</text>
<text x="217" y="1107">0.0</text><text x="217" y="1003">1.0</text><text x="217" y="899">2.0</text><text x="217" y="795">3.0</text><text x="217" y="691">4.0</text>
</g>
<!-- x tick labels -->
<g class="lab" text-anchor="middle">
<text x="671.5" y="589">5</text><text x="1121.5" y="589">10</text><text x="1571.5" y="589">15</text><text x="2021.5" y="589">20</text><text x="2471.5" y="589">25</text><text x="2921.5" y="589">30</text><text x="3371.5" y="589">35</text><text x="3821.5" y="589">40</text>
<text x="671.5" y="1172">45</text><text x="1121.5" y="1172">50</text><text x="1571.5" y="1172">55</text><text x="2021.5" y="1172">60</text><text x="2471.5" y="1172">65</text><text x="2921.5" y="1172">70</text><text x="3371.5" y="1172">75</text>
</g>
<!-- bits labels -->
<text transform="translate(102 275) rotate(-90)" text-anchor="middle" font-family="Liberation Sans, sans-serif" font-size="86">bits</text>
<text transform="translate(102 858) rotate(-90)" text-anchor="middle" font-family="Liberation Sans, sans-serif" font-size="86">bits</text>
<text x="3866" y="1233" text-anchor="end" font-family="Liberation Sans, sans-serif" font-size="50">WebLogo 3.4</text>
</svg>
<script>
(function(){
try{
var cv=document.createElement('canvas').getContext('2d');
var cache={};
var list=document.querySelectorAll('svg.L');
for(var i=0;i<list.length;i++){
 var s=list[i];var t=s.querySelector('text');if(!t)continue;
 var ch=t.textContent;var mono=t.classList.contains('i');
 var key=(mono?'m':'s')+ch;
 if(!cache[key]){
  cv.font=mono?'normal 100px "Liberation Mono", monospace':'bold 100px "Liberation Sans", sans-serif';
  var m=cv.measureText(ch);
  if(m.actualBoundingBoxAscent!==undefined){
   var l=-m.actualBoundingBoxLeft, tp=-m.actualBoundingBoxAscent;
   var w=m.actualBoundingBoxRight+m.actualBoundingBoxLeft, h=m.actualBoundingBoxAscent+m.actualBoundingBoxDescent;
   cache[key]=(w>0&&h>0)?[l,tp,w,h].join(' '):'x';
  } else cache[key]='x';
 }
 if(cache[key]!=='x') s.setAttribute('viewBox',cache[key]);
}
}catch(e){}
})();
</script>
</body></html>
